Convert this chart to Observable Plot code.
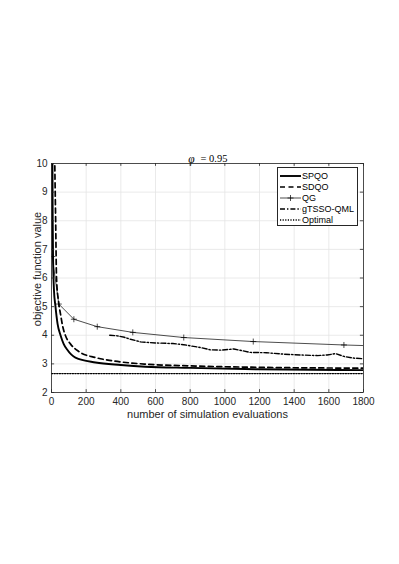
<!DOCTYPE html>
<html>
<head>
<meta charset="utf-8">
<script src="https://cdn.jsdelivr.net/npm/d3@7"></script>
<script src="https://cdn.jsdelivr.net/npm/@observablehq/plot@0.6"></script>
<style>
  html, body { margin: 0; padding: 0; background: #fff; }
  #wrap { position: relative; width: 399px; height: 564px; }
  #legend { position: absolute; left: 277px; top: 167px; width: 81px; height: 59px;
    border: 0.8px solid #262626; background: #fff; box-sizing: border-box;
    font-family: "Liberation Sans", Arial, sans-serif; font-size: 9px; color: #000; padding-top: 2px; }
  .row { display: flex; align-items: center; height: 11.1px; white-space: nowrap; }
  .row svg { margin-left: 2px; margin-right: 1px; flex: none; }
</style>
</head>
<body>
<div id="wrap"><div id="chart"></div><div id="legend"></div></div>
<script>
// ---- data ----
const xTicks = [0, 200, 400, 600, 800, 1000, 1200, 1400, 1600, 1800];
const yTicks = [2, 3, 4, 5, 6, 7, 8, 9, 10];

const spqoX = [4, 7, 9, 14, 23, 35, 52, 70, 90, 138, 254, 400, 542, 800, 1200, 1800];
const spqoY = [12, 8, 6.7, 5.6, 5.0, 4.4, 4.0, 3.7, 3.5, 3.22, 3.05, 2.96, 2.90, 2.86, 2.81, 2.78];

const sdqoX = [15, 19, 24, 29, 40, 52, 65, 81, 110, 158, 254, 350, 542, 800, 1200, 1800];
const sdqoY = [12, 10, 8, 6, 5.2, 4.74, 4.3, 3.98, 3.69, 3.43, 3.22, 3.11, 2.99, 2.93, 2.88, 2.85];

const qgX = [1, 4, 42, 129, 264, 469, 763, 1164, 1687, 1800];
const qgY = [12, 6.75, 5.09, 4.56, 4.30, 4.10, 3.92, 3.78, 3.66, 3.64];
const qgMarkX = [4, 42, 129, 264, 469, 763, 1164, 1687];
const qgMarkY = [6.75, 5.09, 4.56, 4.30, 4.10, 3.92, 3.78, 3.66];

const gtX = [336, 379, 420, 456, 513, 600, 700, 763, 860, 917, 975, 1052, 1148, 1240, 1340, 1437, 1533, 1590, 1639, 1687, 1745, 1800];
const gtY = [4.0, 3.98, 3.93, 3.86, 3.77, 3.73, 3.71, 3.67, 3.57, 3.49, 3.48, 3.52, 3.40, 3.39, 3.34, 3.31, 3.29, 3.31, 3.36, 3.26, 3.20, 3.18];

const optX = [0, 1800];
const optY = [2.66, 2.66];

const seriesNames = ["SPQO", "SDQO", "QG", "gTSSO-QML", "Optimal"];
const titleSymbol = "φ";
const titleRest = "= 0.95";
const xLabel = "number of simulation evaluations";
const yLabel = "objective function value";

// ---- build ----
const pts = (xs, ys) => xs.map((x, i) => ({x, y: ys[i]}));
const plusSymbol = {
  draw(ctx, size) {
    const r = Math.sqrt(size / Math.PI);
    ctx.moveTo(-r, 0); ctx.lineTo(r, 0);
    ctx.moveTo(0, -r); ctx.lineTo(0, r);
  }
};
const ink = "#262626";
const serif = "'Liberation Serif', 'DejaVu Serif', serif";

const chart = Plot.plot({
  width: 399, height: 564,
  marginLeft: 51, marginRight: 36, marginTop: 163, marginBottom: 172,
  style: {fontFamily: "'Liberation Sans', Arial, sans-serif", fontSize: "10px", color: ink, background: "#fff"},
  x: {domain: [0, 1800]},
  y: {domain: [2, 10]},
  marks: [
    Plot.ruleX(xTicks, {stroke: "#e4e4e4", strokeWidth: 0.8}),
    Plot.ruleY(yTicks, {stroke: "#e4e4e4", strokeWidth: 0.8}),
    Plot.line(pts(optX, optY), {x: "x", y: "y", stroke: "#000", strokeWidth: 1.4, strokeDasharray: "1.2,1.4", clip: true}),
    Plot.line(pts(gtX, gtY), {x: "x", y: "y", stroke: "#000", strokeWidth: 1.4, strokeDasharray: "5,2,1.4,2", clip: true}),
    Plot.line(pts(qgX, qgY), {x: "x", y: "y", stroke: "#000", strokeWidth: 0.7, clip: true}),
    Plot.dot(pts(qgMarkX, qgMarkY), {x: "x", y: "y", symbol: plusSymbol, r: 3, stroke: "#000", strokeWidth: 0.7, fill: "none", clip: true}),
    Plot.line(pts(sdqoX, sdqoY), {x: "x", y: "y", stroke: "#000", strokeWidth: 1.7, strokeDasharray: "5,3.5", curve: "monotone-x", clip: true}),
    Plot.line(pts(spqoX, spqoY), {x: "x", y: "y", stroke: "#000", strokeWidth: 1.9, curve: "monotone-x", clip: true}),
    Plot.frame({stroke: ink, strokeWidth: 0.8}),
    // inward ticks on all four sides
    Plot.ruleX(xTicks, {y1: 2, y2: 2.1, stroke: ink, strokeWidth: 0.8}),
    Plot.ruleX(xTicks, {y1: 9.9, y2: 10, stroke: ink, strokeWidth: 0.8}),
    Plot.ruleY(yTicks, {x1: 0, x2: 18, stroke: ink, strokeWidth: 0.8}),
    Plot.ruleY(yTicks, {x1: 1782, x2: 1800, stroke: ink, strokeWidth: 0.8}),
    Plot.axisX(xTicks, {tickSize: 0, tickPadding: 5, label: null, fill: ink, fontSize: 10, tickFormat: d3.format("d")}),
    Plot.axisY(yTicks, {tickSize: 0, tickPadding: 4, label: null, fill: ink, fontSize: 10, tickFormat: d3.format("d")}),
    Plot.text([xLabel], {frameAnchor: "bottom", dy: 25, textAnchor: "middle", fill: ink, fontSize: 11}),
    Plot.text([yLabel], {frameAnchor: "left", dx: -14, dy: -9, rotate: -90, textAnchor: "middle", fill: ink, fontSize: 11}),
    Plot.text([titleSymbol], {frameAnchor: "top", dx: -13, dy: -9, textAnchor: "end", fill: "#000", fontSize: 11.5, fontStyle: "italic", fontFamily: serif}),
    Plot.text([titleRest], {frameAnchor: "top", dx: -7, dy: -9, textAnchor: "start", fill: "#000", fontSize: 10.5, fontFamily: serif})
  ]
});
document.getElementById("chart").appendChild(chart);

// legend
const styles = [
  {w: 1.9, dash: null, marker: false},
  {w: 1.7, dash: "5,3.5", marker: false},
  {w: 0.7, dash: null, marker: true},
  {w: 1.4, dash: "5,2,1.4,2", marker: false},
  {w: 1.4, dash: "1.2,1.4", marker: false}
];
const legend = document.getElementById("legend");
seriesNames.forEach((name, i) => {
  const s = styles[i];
  const row = document.createElement("div");
  row.className = "row";
  const ns = "http://www.w3.org/2000/svg";
  const svg = document.createElementNS(ns, "svg");
  svg.setAttribute("width", 21); svg.setAttribute("height", 10);
  const ln = document.createElementNS(ns, "line");
  ln.setAttribute("x1", 0); ln.setAttribute("x2", 21); ln.setAttribute("y1", 5); ln.setAttribute("y2", 5);
  ln.setAttribute("stroke", "#000"); ln.setAttribute("stroke-width", s.w);
  if (s.dash) ln.setAttribute("stroke-dasharray", s.dash);
  svg.appendChild(ln);
  if (s.marker) {
    const m = document.createElementNS(ns, "path");
    m.setAttribute("d", "M7.5,5H13.5M10.5,2V8");
    m.setAttribute("stroke", "#000"); m.setAttribute("stroke-width", 0.7);
    svg.appendChild(m);
  }
  row.appendChild(svg);
  const t = document.createElement("span");
  t.textContent = name;
  row.appendChild(t);
  legend.appendChild(row);
});
</script>
</body>
</html>
